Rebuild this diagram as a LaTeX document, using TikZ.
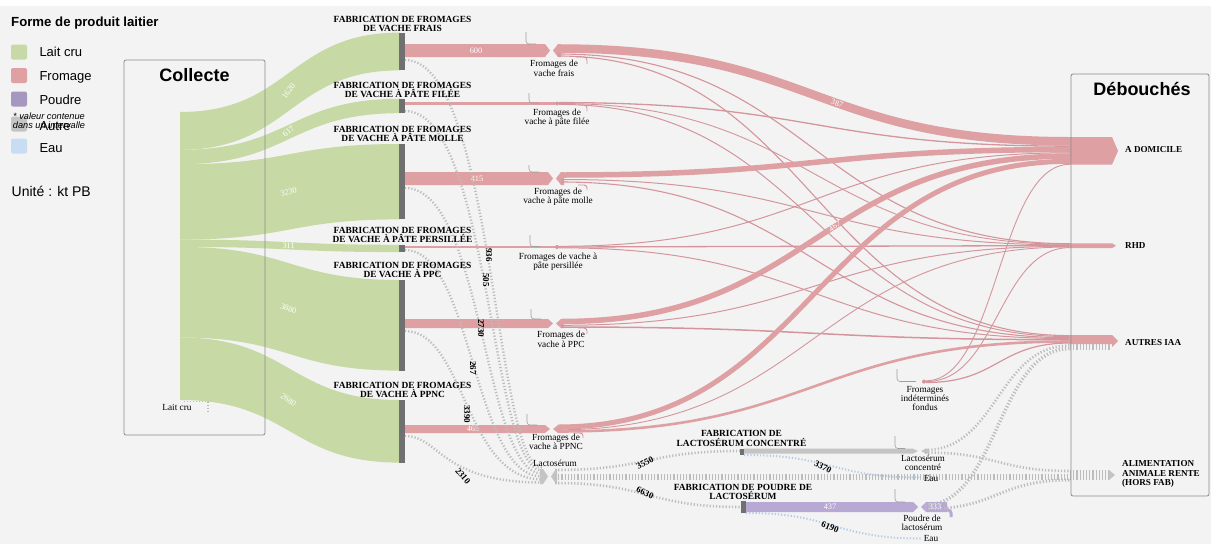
\documentclass[tikz,border=0pt]{standalone}
\usepackage{fontspec}
\setmainfont{Liberation Serif}
\newfontfamily\sansfam{Liberation Sans}

\definecolor{bg}{RGB}{243,243,243}
\definecolor{lait}{RGB}{199,218,166}
\definecolor{fromage}{RGB}{222,160,162}
\definecolor{fromthin}{RGB}{212,150,156}
\definecolor{poudre}{RGB}{184,168,212}
\definecolor{autre}{RGB}{188,188,188}
\definecolor{autresolid}{RGB}{196,196,196}
\definecolor{eau}{RGB}{200,221,243}
\definecolor{eauline}{RGB}{178,204,232}
\definecolor{barc}{RGB}{112,112,112}
\definecolor{framec}{RGB}{140,140,140}

% Sankey link: horizontal tangents at both ends
\newcommand{\lnk}[6]{\draw[#1] (#2,#3) .. controls ({(#2+#4)/2},#3) and ({(#2+#4)/2},#5) .. (#4,#5) #6;}
% same, with an explicit control abscissa
\newcommand{\lnkc}[7]{\draw[#1] (#2,#3) .. controls (#4,#3) and (#4,#6) .. (#5,#6) #7;}
% filled ribbon: colour, x0, top0, bottom0, x1, top1, bottom1
\newcommand{\ribbon}[7]{\fill[#1] (#2,#3) .. controls ({(#2+#5)/2},#3) and ({(#2+#5)/2},#6) .. (#5,#6) -- (#5,#7) .. controls ({(#2+#5)/2},#7) and ({(#2+#5)/2},#4) .. (#2,#4) -- cycle;}
% band ending with a pointed tip: colour, x start, x tip, y top, y bottom
\newcommand{\inarrow}[5]{\fill[#1] (#2,#4) -- ({#3-5},#4) -- (#3,{(#4+#5)/2}) -- ({#3-5},#5) -- (#2,#5) -- cycle;}
% band starting with a pointed tail: colour, x tail, x end, y top, y bottom
\newcommand{\outchev}[5]{\fill[#1] (#2,{(#4+#5)/2}) -- ({#2+5},#4) -- (#3,#4) -- (#3,#5) -- ({#2+5},#5) -- cycle;}

\begin{document}
\begin{tikzpicture}[x=1pt,y=-1pt,
  redflow/.style={draw=fromage, line width=#1pt},
  thinred/.style={draw=fromthin, line width=#1pt},
  dotflow/.style={draw=autre, line width=#1pt, dash pattern=on 1.2pt off 2pt},
  eauflow/.style={draw=eauline, line width=#1pt, dash pattern=on 1.2pt off 2pt},
  procbar/.style={fill=barc},
  brk/.style={draw=gray!75, line width=0.6pt, rounded corners=3pt},
  hookred/.style={draw=fromthin, line width=0.9pt, rounded corners=3pt},
  stagelbl/.style={font=\fontsize{9.4}{10}\selectfont\bfseries, anchor=base, inner sep=0pt},
  prodlbl/.style={font=\fontsize{9.3}{10}\selectfont, anchor=base, inner sep=0pt},
  sinklbl/.style={font=\fontsize{9.1}{10}\selectfont\bfseries, anchor=base west, inner sep=0pt},
  vallbl/.style={font=\fontsize{8.3}{9}\selectfont, text=white, inner sep=0pt},
  dotlbl/.style={font=\fontsize{9}{10}\selectfont\bfseries, inner sep=0pt},
  boxframe/.style={draw=framec, line width=0.8pt, rounded corners=2pt},
  legsq/.style={rounded corners=2pt},
  legtxt/.style={font=\sansfam\fontsize{13}{14}\selectfont, anchor=base west, inner sep=0pt},
]
\useasboundingbox (0,0) rectangle (1211,544);
\fill[white] (0,0) rectangle (1211,544);
\fill[bg] (0,6) rectangle (1211,544);

% ---------- legend ----------
\node[font=\sansfam\bfseries\fontsize{13.2}{15}\selectfont, anchor=base west, inner sep=0pt] (legtitle) at (11,26.7) {Forme de produit laitier};
\fill[legsq, lait]    (11,44.5) rectangle (27,59.5);
\fill[legsq, fromage] (11,68)   rectangle (27,83);
\fill[legsq, poudre!90!black]  (11,91.5) rectangle (27,106.5);
\fill[legsq, autresolid] (11,116.5) rectangle (27,131.5);
\fill[legsq, eau]     (11,138.5) rectangle (27,153.5);
\node[legtxt] (leglait) at (39.3,56) {Lait cru};
\node[legtxt] (legfrom) at (39.3,80.5) {Fromage};
\node[legtxt] (legpoud) at (39.3,104.5) {Poudre};
\node[font=\sansfam\itshape\fontsize{9.2}{10}\selectfont, anchor=base, inner sep=0pt] (legnote1) at (49,119.3) {* valeur contenue};
\node[font=\sansfam\itshape\fontsize{9.2}{10}\selectfont, anchor=base, inner sep=0pt] (legnote2) at (49,128.3) {dans un intervalle};
\node[legtxt] (legautre) at (39.3,130) {Autre};
\node[legtxt] (legeau) at (39.3,152.5) {Eau};
\node[font=\sansfam\fontsize{14}{15}\selectfont, anchor=base west, inner sep=0pt] (legunit) at (11.5,196.5) {Unité : kt PB};

% ---------- raw milk to cheese plants ----------
\ribbon{lait}{180}{112}{149.8}{399.5}{32.6}{70.4}
\ribbon{lait}{180}{149.8}{164.2}{399.5}{98.8}{113.2}
\ribbon{lait}{180}{164.2}{239.6}{399.5}{144}{219.4}
\ribbon{lait}{180}{239.6}{246.9}{399.5}{244.8}{252.1}
\ribbon{lait}{180}{246.9}{337.5}{399.5}{280}{370.6}
\ribbon{lait}{180}{337.5}{400}{399.5}{400}{462.6}
\node[vallbl, rotate=52] (v1620) at (288.5,91.2) {1620};
\node[vallbl, rotate=40] (v617) at (288.5,131.5) {617};
\node[vallbl, rotate=13] (v3230) at (288.5,191.8) {3230};
\node[vallbl, rotate=2] (v311) at (288.5,245.85) {311};
\node[vallbl, rotate=-21] (v3880) at (288.5,308.75) {3880};
\node[vallbl, rotate=-35] (v2680) at (288.5,400) {2680};
\draw[autre, line width=1.3pt, dash pattern=on 1.2pt off 1.8pt] (184,401.5) -- (208,401.5) -- (208,411);

\draw[boxframe] (124,60) rectangle (265,435);
\node[font=\sansfam\bfseries\fontsize{18}{20}\selectfont, anchor=base, inner sep=0pt] (collecte) at (194.5,81) {Collecte};
\node[prodlbl] (laitcru) at (177,410) {Lait cru};

% ---------- cheese plants ----------
\fill[procbar] (399,32.6)  rectangle (405,70.4);
\fill[procbar] (399,98.8)  rectangle (405,113.2);
\fill[procbar] (399,144)   rectangle (405,219.4);
\fill[procbar] (399,244.8) rectangle (405,252.1);
\fill[procbar] (399,280)   rectangle (405,370.6);
\fill[procbar] (399,400)   rectangle (405,462.6);

% cheese out of each plant
\inarrow{fromage}{405}{550}{44}{57}
\outchev{fromage}{553}{561}{44}{57}
\draw[redflow=3] (405,103.5) -- (555,103.5);
\fill[fromthin] (557,103.5) circle (2);
\inarrow{fromage}{405}{553}{172}{185}
\outchev{fromage}{556}{564}{172}{185}
\draw[redflow=2] (405,247) -- (555,247);
\fill[fromthin] (557,247) circle (2);
\inarrow{fromage}{405}{553}{319}{328}
\outchev{fromage}{556}{564}{319}{328}
\inarrow{fromage}{405}{550}{425}{433}
\outchev{fromage}{553}{561}{425}{433}
\node[vallbl] (v600) at (476,50.5) {600};
\node[vallbl] (v415) at (477,178.5) {415};
\node[vallbl] (v465) at (473,429) {465};

% brackets and hooks at the product nodes
\draw[brk] (526,32) -- (526,44) -- (536,44);
\draw[hookred] (576,57) -- (587,57) -- (587,64);
\draw[brk] (529,93) -- (529,103) -- (539,103);
\draw[hookred] (578,105) -- (587,105) -- (587,111);
\draw[brk] (529,165) -- (529,172) -- (539,172);
\draw[hookred] (578,185) -- (587,185) -- (587,190);
\draw[brk] (530,235) -- (530,246.5) -- (540,246.5);
\draw[brk] (531,309) -- (531,319) -- (541,319);
\draw[hookred] (578,328) -- (587,328) -- (587,334);
\draw[brk] (527,414) -- (527,425) -- (537,425);
\draw[hookred] (574,433) -- (583,433) -- (583,438);

% ---------- whey from the cheese plants ----------
\lnkc{dotflow=2.4}{405}{60}{494.2}{542}{467.5}{}
\lnkc{dotflow=2.4}{405}{111}{490.2}{542}{470.5}{}
\lnkc{dotflow=2.4}{405}{188}{483.5}{542}{473.5}{}
\lnkc{dotflow=2.4}{405}{250}{472.8}{542}{476.5}{}
\lnkc{dotflow=2.4}{405}{331}{464.8}{542}{479.5}{}
\lnkc{dotflow=2.4}{405}{436}{440}{542}{482.5}{}
\node[dotlbl, rotate=-90] (d936) at (489,255) {936};
\node[dotlbl, rotate=-90] (d505) at (486,280) {505};
\node[dotlbl, rotate=-90] (d2730) at (481,328) {2730};
\node[dotlbl, rotate=-90] (d267) at (473,368) {267};
\node[dotlbl, rotate=-90] (d3390) at (467,414) {3390};
\node[dotlbl, rotate=-50] (d2310) at (463,476) {2310};

% whey node
\inarrow{autresolid}{540}{548}{469}{484}
\outchev{autresolid}{551}{557}{469}{484}
\lnk{dotflow=2.6}{555}{470}{740}{451}{}
\draw[dotflow=6] (555,476.5) -- (1070,476.5);
\lnk{dotflow=2.6}{555}{483}{741}{507}{}
\node[dotlbl, rotate=28] (d3550) at (645,463) {3550};
\node[dotlbl, rotate=-26] (d6630) at (645,493) {6630};

% concentrated whey plant
\fill[procbar] (740,448.5) rectangle (744,455);
\inarrow{autresolid}{744}{918}{448.5}{453.5}
\lnk{eauflow=2}{744}{455}{921}{477.5}{}
\node[dotlbl, rotate=-28] (d3370) at (823,467) {3370};
\draw[brk] (895,436) -- (895,448.5) -- (905,448.5);
\outchev{autresolid}{921}{928}{448.5}{453.5}
\lnk{dotflow=2.6}{925}{450}{1070}{345.5}{}
\lnk{dotflow=2.6}{925}{452.5}{1070}{471}{}

% whey powder plant
\fill[procbar] (741,501) rectangle (746,513);
\inarrow{poudre}{746}{918}{502}{512}
\node[vallbl] (v437) at (830,507) {437};
\lnk{eauflow=2}{746}{513}{921}{538.5}{}
\node[dotlbl, rotate=-22] (d6190) at (830,527) {6190};
\draw[brk] (895,489) -- (895,502) -- (905,502);
\outchev{poudre}{921}{947}{502}{512}
\draw[poudre, line width=3pt, rounded corners=3pt] (940,510) -- (951,510) -- (951,517);
\lnk{dotflow=3.5}{925}{505}{1070}{348.5}{}
\lnk{dotflow=3}{925}{509}{1070}{480}{}
\node[vallbl] (v333) at (935,507) {333};

% ---------- cheese to outlets ----------
\lnk{redflow=8.5}{558}{48.5}{1070}{141.25}{node[vallbl, pos=0.56, sloped] {387}}
\lnk{thinred=1.1}{558}{54}{1070}{243.7}{}
\lnk{thinred=1.1}{558}{56}{1070}{335.6}{}
\lnk{thinred=1.3}{559}{102.6}{1070}{146.15}{}
\lnk{thinred=0.9}{559}{103.5}{1070}{244.3}{}
\lnk{thinred=1}{559}{104.4}{1070}{336.6}{}
\lnk{redflow=5.5}{561}{175}{1070}{149.55}{}
\lnk{thinred=1}{561}{179.5}{1070}{244.9}{}
\lnk{thinred=1.1}{561}{182}{1070}{337.7}{}
\lnk{thinred=1}{559}{246.3}{1070}{152.8}{}
\lnk{thinred=1.3}{559}{247}{1070}{245.6}{}
\lnk{thinred=1}{559}{247.8}{1070}{338.6}{}
\lnk{redflow=5.5}{561}{321.5}{1070}{156.05}{node[vallbl, pos=0.55, sloped] {467}}
\lnk{thinred=1}{561}{325.3}{1070}{246.3}{}
\lnk{thinred=1.5}{561}{327}{1070}{339.7}{}
\lnk{redflow=5}{558}{427}{1070}{161.3}{}
\lnk{thinred=0.9}{558}{429.8}{1070}{247}{}
\lnk{redflow=2.6}{558}{431.5}{1070}{341.5}{}

% processed cheese node
\draw[brk] (897,369) -- (897,381.5) -- (916,381.5);
\fill[fromthin] (924,381.6) circle (2);
\lnk{thinred=0.9}{926}{380.8}{1070}{164.25}{}
\lnk{thinred=0.9}{926}{381.6}{1070}{247.6}{}
\lnk{thinred=1.2}{926}{382.5}{1070}{343}{}

% ---------- outlets ----------
\fill[fromage] (1069,137) -- (1112,137) -- (1118,150.85) -- (1112,164.7) -- (1069,164.7) -- cycle;
\fill[fromage] (1069,243.3) -- (1112,243.3) -- (1116,245.7) -- (1112,248.1) -- (1069,248.1) -- cycle;
\draw[dotflow=5.5] (1070,347) -- (1111,347);
\fill[fromage] (1069,335) -- (1112,335) -- (1118,341) -- (1112,347) -- (1112,344) -- (1069,344) -- cycle;
\draw[dotflow=10] (1070,475) -- (1109,475);
\fill[autresolid] (1109,470) -- (1115,475) -- (1109,480) -- cycle;

\draw[boxframe] (1071,74) rectangle (1209,496);
\node[font=\sansfam\bfseries\fontsize{18}{20}\selectfont, anchor=base, inner sep=0pt] (debouches) at (1142,95) {Débouchés};
\node[sinklbl] (sdom) at (1125,152.7) {A DOMICILE};
\node[sinklbl] (srhd) at (1125,248.3) {RHD};
\node[sinklbl] (saut) at (1125,345) {AUTRES IAA};
\node[sinklbl] (salim1) at (1122,466.7) {ALIMENTATION};
\node[sinklbl] (salim2) at (1122,476) {ANIMALE RENTE};
\node[sinklbl] (salim3) at (1122,485.3) {(HORS FAB)};

% ---------- plant labels ----------
\node[stagelbl] (sfr1) at (402.5,22.3) {FABRICATION DE FROMAGES};
\node[stagelbl] (sfr2) at (402.5,31.5) {DE VACHE FRAIS};
\node[stagelbl] (sfi1) at (402.5,88.3) {FABRICATION DE FROMAGES};
\node[stagelbl] (sfi2) at (402.5,97.3) {DE VACHE À PÂTE FILÉE};
\node[stagelbl] (smo1) at (402.5,132) {FABRICATION DE FROMAGES};
\node[stagelbl] (smo2) at (402.5,141) {DE VACHE À PÂTE MOLLE};
\node[stagelbl] (spe1) at (402.5,233.3) {FABRICATION DE FROMAGES};
\node[stagelbl] (spe2) at (402.5,242.5) {DE VACHE À PÂTE PERSILLÉE};
\node[stagelbl] (spc1) at (402.5,268.3) {FABRICATION DE FROMAGES};
\node[stagelbl] (spc2) at (402.5,277.3) {DE VACHE À PPC};
\node[stagelbl] (spn1) at (402.5,388.3) {FABRICATION DE FROMAGES};
\node[stagelbl] (spn2) at (402.5,397.3) {DE VACHE À PPNC};
\node[stagelbl] (slc1) at (741.5,436.7) {FABRICATION DE};
\node[stagelbl] (slc2) at (741.5,446.2) {LACTOSÉRUM CONCENTRÉ};
\node[stagelbl] (slp1) at (743,490) {FABRICATION DE POUDRE DE};
\node[stagelbl] (slp2) at (743,499.3) {LACTOSÉRUM};

% ---------- product labels ----------
\node[prodlbl] (pfr1) at (554,66.7) {Fromages de};
\node[prodlbl] (pfr2) at (554,76) {vache frais};
\node[prodlbl] (pfi1) at (557,115) {Fromages de};
\node[prodlbl] (pfi2) at (557,124.3) {vache à pâte filée};
\node[prodlbl] (pmo1) at (558,194) {Fromages de};
\node[prodlbl] (pmo2) at (558,203.3) {vache à pâte molle};
\node[prodlbl] (ppe1) at (558,259.3) {Fromages de vache à};
\node[prodlbl] (ppe2) at (558,268.3) {pâte persillée};
\node[prodlbl] (ppc1) at (561,337.3) {Fromages de};
\node[prodlbl] (ppc2) at (561,347) {vache à PPC};
\node[prodlbl] (ppn1) at (556,440) {Fromages de};
\node[prodlbl] (ppn2) at (556,449.5) {vache à PPNC};
\node[prodlbl] (plac) at (555,466) {Lactosérum};
\node[prodlbl] (pfo1) at (925,392.3) {Fromages};
\node[prodlbl] (pfo2) at (925,401.7) {indéterminés};
\node[prodlbl] (pfo3) at (925,410.7) {fondus};
\node[prodlbl] (plc1) at (923,461.7) {Lactosérum};
\node[prodlbl] (plc2) at (923,470.7) {concentré};
\node[prodlbl] (peau1) at (931,481.2) {Eau};
\node[prodlbl] (plp1) at (922,521) {Poudre de};
\node[prodlbl] (plp2) at (922,530.5) {lactosérum};
\node[prodlbl] (peau2) at (931,541) {Eau};
\end{tikzpicture}
\end{document}
